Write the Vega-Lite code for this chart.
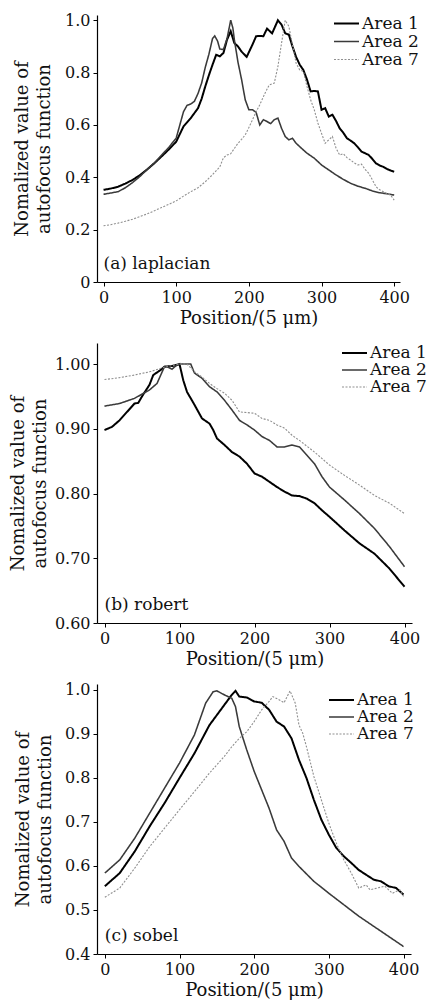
{
  "$schema": "https://vega.github.io/schema/vega-lite/v6.json",
  "autosize": {"type": "pad"},
  "padding": {"left": 9, "top": 12, "right": 0, "bottom": 2},
  "background": "white",
  "bounds": "flush",
  "spacing": 61,
  "config": {
    "font": "DejaVu Serif",
    "view": {"stroke": null},
    "axis": {
      "grid": false,
      "domainColor": "#000",
      "domainWidth": 1.2,
      "tickColor": "#000",
      "tickSize": 4,
      "tickWidth": 1,
      "labelFont": "DejaVu Serif",
      "labelFontSize": 16,
      "labelColor": "#111",
      "labelPadding": 3,
      "titleFont": "DejaVu Serif",
      "titleFontSize": 18,
      "titleFontWeight": "normal",
      "titleColor": "#111"
    },
    "legend": {
      "labelFont": "DejaVu Serif",
      "labelFontSize": 17,
      "labelColor": "#111",
      "padding": 0,
      "labelOffset": 2,
      "rowPadding": 0
    }
  },
  "datasets": {
    "a": [
      {"position": 0, "value": 0.352, "series": "Area 1"}, {"position": 10, "value": 0.357, "series": "Area 1"}, {"position": 20, "value": 0.364, "series": "Area 1"}, {"position": 30, "value": 0.376, "series": "Area 1"}, {"position": 40, "value": 0.39, "series": "Area 1"}, {"position": 50, "value": 0.408, "series": "Area 1"}, {"position": 60, "value": 0.43, "series": "Area 1"}, {"position": 70, "value": 0.454, "series": "Area 1"}, {"position": 80, "value": 0.48, "series": "Area 1"}, {"position": 90, "value": 0.507, "series": "Area 1"}, {"position": 100, "value": 0.536, "series": "Area 1"}, {"position": 105, "value": 0.565, "series": "Area 1"}, {"position": 110, "value": 0.594, "series": "Area 1"}, {"position": 120, "value": 0.626, "series": "Area 1"}, {"position": 130, "value": 0.664, "series": "Area 1"}, {"position": 135, "value": 0.7, "series": "Area 1"}, {"position": 140, "value": 0.747, "series": "Area 1"}, {"position": 145, "value": 0.79, "series": "Area 1"}, {"position": 150, "value": 0.83, "series": "Area 1"}, {"position": 155, "value": 0.868, "series": "Area 1"}, {"position": 160, "value": 0.862, "series": "Area 1"}, {"position": 165, "value": 0.875, "series": "Area 1"}, {"position": 170, "value": 0.926, "series": "Area 1"}, {"position": 175, "value": 0.958, "series": "Area 1"}, {"position": 180, "value": 0.913, "series": "Area 1"}, {"position": 185, "value": 0.9, "series": "Area 1"}, {"position": 190, "value": 0.88, "series": "Area 1"}, {"position": 197, "value": 0.86, "series": "Area 1"}, {"position": 205, "value": 0.907, "series": "Area 1"}, {"position": 210, "value": 0.939, "series": "Area 1"}, {"position": 215, "value": 0.94, "series": "Area 1"}, {"position": 220, "value": 0.939, "series": "Area 1"}, {"position": 225, "value": 0.968, "series": "Area 1"}, {"position": 232, "value": 0.95, "series": "Area 1"}, {"position": 236, "value": 0.975, "series": "Area 1"}, {"position": 240, "value": 1.0, "series": "Area 1"}, {"position": 245, "value": 0.983, "series": "Area 1"}, {"position": 250, "value": 0.95, "series": "Area 1"}, {"position": 255, "value": 0.945, "series": "Area 1"}, {"position": 260, "value": 0.9, "series": "Area 1"}, {"position": 265, "value": 0.86, "series": "Area 1"}, {"position": 270, "value": 0.83, "series": "Area 1"}, {"position": 275, "value": 0.81, "series": "Area 1"}, {"position": 280, "value": 0.773, "series": "Area 1"}, {"position": 285, "value": 0.728, "series": "Area 1"}, {"position": 290, "value": 0.73, "series": "Area 1"}, {"position": 295, "value": 0.728, "series": "Area 1"}, {"position": 300, "value": 0.658, "series": "Area 1"}, {"position": 305, "value": 0.664, "series": "Area 1"}, {"position": 310, "value": 0.632, "series": "Area 1"}, {"position": 315, "value": 0.639, "series": "Area 1"}, {"position": 320, "value": 0.615, "series": "Area 1"}, {"position": 325, "value": 0.587, "series": "Area 1"}, {"position": 330, "value": 0.57, "series": "Area 1"}, {"position": 335, "value": 0.549, "series": "Area 1"}, {"position": 340, "value": 0.54, "series": "Area 1"}, {"position": 345, "value": 0.53, "series": "Area 1"}, {"position": 350, "value": 0.515, "series": "Area 1"}, {"position": 355, "value": 0.498, "series": "Area 1"}, {"position": 360, "value": 0.492, "series": "Area 1"}, {"position": 365, "value": 0.485, "series": "Area 1"}, {"position": 370, "value": 0.47, "series": "Area 1"}, {"position": 375, "value": 0.453, "series": "Area 1"}, {"position": 380, "value": 0.445, "series": "Area 1"}, {"position": 385, "value": 0.44, "series": "Area 1"}, {"position": 390, "value": 0.432, "series": "Area 1"}, {"position": 395, "value": 0.426, "series": "Area 1"}, {"position": 400, "value": 0.421, "series": "Area 1"},
      {"position": 0, "value": 0.335, "series": "Area 2"}, {"position": 10, "value": 0.34, "series": "Area 2"}, {"position": 20, "value": 0.345, "series": "Area 2"}, {"position": 30, "value": 0.36, "series": "Area 2"}, {"position": 40, "value": 0.38, "series": "Area 2"}, {"position": 50, "value": 0.403, "series": "Area 2"}, {"position": 60, "value": 0.43, "series": "Area 2"}, {"position": 70, "value": 0.455, "series": "Area 2"}, {"position": 80, "value": 0.485, "series": "Area 2"}, {"position": 90, "value": 0.515, "series": "Area 2"}, {"position": 100, "value": 0.55, "series": "Area 2"}, {"position": 105, "value": 0.6, "series": "Area 2"}, {"position": 110, "value": 0.65, "series": "Area 2"}, {"position": 115, "value": 0.675, "series": "Area 2"}, {"position": 120, "value": 0.68, "series": "Area 2"}, {"position": 125, "value": 0.69, "series": "Area 2"}, {"position": 130, "value": 0.72, "series": "Area 2"}, {"position": 135, "value": 0.76, "series": "Area 2"}, {"position": 140, "value": 0.82, "series": "Area 2"}, {"position": 145, "value": 0.87, "series": "Area 2"}, {"position": 150, "value": 0.93, "series": "Area 2"}, {"position": 153, "value": 0.94, "series": "Area 2"}, {"position": 157, "value": 0.92, "series": "Area 2"}, {"position": 160, "value": 0.89, "series": "Area 2"}, {"position": 165, "value": 0.888, "series": "Area 2"}, {"position": 170, "value": 0.93, "series": "Area 2"}, {"position": 175, "value": 1.0, "series": "Area 2"}, {"position": 178, "value": 0.97, "series": "Area 2"}, {"position": 180, "value": 0.926, "series": "Area 2"}, {"position": 185, "value": 0.84, "series": "Area 2"}, {"position": 190, "value": 0.773, "series": "Area 2"}, {"position": 195, "value": 0.696, "series": "Area 2"}, {"position": 200, "value": 0.658, "series": "Area 2"}, {"position": 205, "value": 0.658, "series": "Area 2"}, {"position": 210, "value": 0.648, "series": "Area 2"}, {"position": 215, "value": 0.6, "series": "Area 2"}, {"position": 220, "value": 0.62, "series": "Area 2"}, {"position": 225, "value": 0.613, "series": "Area 2"}, {"position": 230, "value": 0.605, "series": "Area 2"}, {"position": 235, "value": 0.62, "series": "Area 2"}, {"position": 240, "value": 0.626, "series": "Area 2"}, {"position": 245, "value": 0.587, "series": "Area 2"}, {"position": 250, "value": 0.556, "series": "Area 2"}, {"position": 255, "value": 0.543, "series": "Area 2"}, {"position": 260, "value": 0.549, "series": "Area 2"}, {"position": 265, "value": 0.53, "series": "Area 2"}, {"position": 270, "value": 0.517, "series": "Area 2"}, {"position": 280, "value": 0.492, "series": "Area 2"}, {"position": 290, "value": 0.473, "series": "Area 2"}, {"position": 300, "value": 0.447, "series": "Area 2"}, {"position": 310, "value": 0.428, "series": "Area 2"}, {"position": 320, "value": 0.409, "series": "Area 2"}, {"position": 330, "value": 0.392, "series": "Area 2"}, {"position": 340, "value": 0.377, "series": "Area 2"}, {"position": 350, "value": 0.366, "series": "Area 2"}, {"position": 360, "value": 0.358, "series": "Area 2"}, {"position": 370, "value": 0.348, "series": "Area 2"}, {"position": 380, "value": 0.341, "series": "Area 2"}, {"position": 390, "value": 0.337, "series": "Area 2"}, {"position": 400, "value": 0.332, "series": "Area 2"},
      {"position": 0, "value": 0.215, "series": "Area 7"}, {"position": 10, "value": 0.219, "series": "Area 7"}, {"position": 20, "value": 0.225, "series": "Area 7"}, {"position": 30, "value": 0.232, "series": "Area 7"}, {"position": 40, "value": 0.24, "series": "Area 7"}, {"position": 50, "value": 0.25, "series": "Area 7"}, {"position": 60, "value": 0.26, "series": "Area 7"}, {"position": 70, "value": 0.272, "series": "Area 7"}, {"position": 80, "value": 0.285, "series": "Area 7"}, {"position": 90, "value": 0.297, "series": "Area 7"}, {"position": 100, "value": 0.31, "series": "Area 7"}, {"position": 110, "value": 0.328, "series": "Area 7"}, {"position": 120, "value": 0.345, "series": "Area 7"}, {"position": 130, "value": 0.36, "series": "Area 7"}, {"position": 140, "value": 0.383, "series": "Area 7"}, {"position": 150, "value": 0.41, "series": "Area 7"}, {"position": 160, "value": 0.44, "series": "Area 7"}, {"position": 165, "value": 0.475, "series": "Area 7"}, {"position": 170, "value": 0.485, "series": "Area 7"}, {"position": 175, "value": 0.49, "series": "Area 7"}, {"position": 180, "value": 0.51, "series": "Area 7"}, {"position": 185, "value": 0.53, "series": "Area 7"}, {"position": 190, "value": 0.545, "series": "Area 7"}, {"position": 195, "value": 0.562, "series": "Area 7"}, {"position": 200, "value": 0.59, "series": "Area 7"}, {"position": 205, "value": 0.62, "series": "Area 7"}, {"position": 210, "value": 0.65, "series": "Area 7"}, {"position": 215, "value": 0.677, "series": "Area 7"}, {"position": 222, "value": 0.72, "series": "Area 7"}, {"position": 228, "value": 0.753, "series": "Area 7"}, {"position": 235, "value": 0.76, "series": "Area 7"}, {"position": 240, "value": 0.824, "series": "Area 7"}, {"position": 245, "value": 0.913, "series": "Area 7"}, {"position": 250, "value": 1.0, "series": "Area 7"}, {"position": 255, "value": 0.977, "series": "Area 7"}, {"position": 260, "value": 0.907, "series": "Area 7"}, {"position": 265, "value": 0.836, "series": "Area 7"}, {"position": 270, "value": 0.81, "series": "Area 7"}, {"position": 275, "value": 0.805, "series": "Area 7"}, {"position": 280, "value": 0.747, "series": "Area 7"}, {"position": 285, "value": 0.696, "series": "Area 7"}, {"position": 290, "value": 0.658, "series": "Area 7"}, {"position": 295, "value": 0.607, "series": "Area 7"}, {"position": 300, "value": 0.568, "series": "Area 7"}, {"position": 305, "value": 0.53, "series": "Area 7"}, {"position": 310, "value": 0.543, "series": "Area 7"}, {"position": 315, "value": 0.556, "series": "Area 7"}, {"position": 320, "value": 0.511, "series": "Area 7"}, {"position": 325, "value": 0.485, "series": "Area 7"}, {"position": 330, "value": 0.49, "series": "Area 7"}, {"position": 335, "value": 0.475, "series": "Area 7"}, {"position": 340, "value": 0.466, "series": "Area 7"}, {"position": 345, "value": 0.455, "series": "Area 7"}, {"position": 350, "value": 0.447, "series": "Area 7"}, {"position": 355, "value": 0.45, "series": "Area 7"}, {"position": 360, "value": 0.43, "series": "Area 7"}, {"position": 365, "value": 0.415, "series": "Area 7"}, {"position": 370, "value": 0.39, "series": "Area 7"}, {"position": 375, "value": 0.364, "series": "Area 7"}, {"position": 380, "value": 0.352, "series": "Area 7"}, {"position": 385, "value": 0.345, "series": "Area 7"}, {"position": 390, "value": 0.338, "series": "Area 7"}, {"position": 395, "value": 0.332, "series": "Area 7"}, {"position": 400, "value": 0.313, "series": "Area 7"}
    ],
    "b": [
      {"position": 0, "value": 0.898, "series": "Area 1"}, {"position": 10, "value": 0.903, "series": "Area 1"}, {"position": 20, "value": 0.913, "series": "Area 1"}, {"position": 30, "value": 0.926, "series": "Area 1"}, {"position": 40, "value": 0.939, "series": "Area 1"}, {"position": 45, "value": 0.94, "series": "Area 1"}, {"position": 50, "value": 0.95, "series": "Area 1"}, {"position": 60, "value": 0.968, "series": "Area 1"}, {"position": 65, "value": 0.983, "series": "Area 1"}, {"position": 75, "value": 0.991, "series": "Area 1"}, {"position": 80, "value": 0.996, "series": "Area 1"}, {"position": 90, "value": 0.997, "series": "Area 1"}, {"position": 100, "value": 1.0, "series": "Area 1"}, {"position": 105, "value": 0.975, "series": "Area 1"}, {"position": 110, "value": 0.957, "series": "Area 1"}, {"position": 120, "value": 0.937, "series": "Area 1"}, {"position": 130, "value": 0.916, "series": "Area 1"}, {"position": 140, "value": 0.908, "series": "Area 1"}, {"position": 145, "value": 0.898, "series": "Area 1"}, {"position": 150, "value": 0.885, "series": "Area 1"}, {"position": 160, "value": 0.875, "series": "Area 1"}, {"position": 170, "value": 0.864, "series": "Area 1"}, {"position": 180, "value": 0.857, "series": "Area 1"}, {"position": 190, "value": 0.846, "series": "Area 1"}, {"position": 200, "value": 0.831, "series": "Area 1"}, {"position": 210, "value": 0.826, "series": "Area 1"}, {"position": 220, "value": 0.818, "series": "Area 1"}, {"position": 230, "value": 0.81, "series": "Area 1"}, {"position": 240, "value": 0.803, "series": "Area 1"}, {"position": 250, "value": 0.797, "series": "Area 1"}, {"position": 260, "value": 0.796, "series": "Area 1"}, {"position": 270, "value": 0.792, "series": "Area 1"}, {"position": 280, "value": 0.785, "series": "Area 1"}, {"position": 290, "value": 0.774, "series": "Area 1"}, {"position": 300, "value": 0.764, "series": "Area 1"}, {"position": 320, "value": 0.743, "series": "Area 1"}, {"position": 340, "value": 0.723, "series": "Area 1"}, {"position": 360, "value": 0.707, "series": "Area 1"}, {"position": 380, "value": 0.684, "series": "Area 1"}, {"position": 400, "value": 0.656, "series": "Area 1"},
      {"position": 0, "value": 0.935, "series": "Area 2"}, {"position": 20, "value": 0.939, "series": "Area 2"}, {"position": 40, "value": 0.947, "series": "Area 2"}, {"position": 60, "value": 0.96, "series": "Area 2"}, {"position": 70, "value": 0.97, "series": "Area 2"}, {"position": 80, "value": 0.996, "series": "Area 2"}, {"position": 85, "value": 0.995, "series": "Area 2"}, {"position": 90, "value": 0.992, "series": "Area 2"}, {"position": 95, "value": 0.997, "series": "Area 2"}, {"position": 100, "value": 1.0, "series": "Area 2"}, {"position": 115, "value": 1.0, "series": "Area 2"}, {"position": 120, "value": 0.986, "series": "Area 2"}, {"position": 130, "value": 0.978, "series": "Area 2"}, {"position": 140, "value": 0.965, "series": "Area 2"}, {"position": 150, "value": 0.957, "series": "Area 2"}, {"position": 160, "value": 0.944, "series": "Area 2"}, {"position": 170, "value": 0.929, "series": "Area 2"}, {"position": 180, "value": 0.913, "series": "Area 2"}, {"position": 190, "value": 0.906, "series": "Area 2"}, {"position": 200, "value": 0.898, "series": "Area 2"}, {"position": 210, "value": 0.888, "series": "Area 2"}, {"position": 220, "value": 0.882, "series": "Area 2"}, {"position": 230, "value": 0.872, "series": "Area 2"}, {"position": 240, "value": 0.872, "series": "Area 2"}, {"position": 250, "value": 0.875, "series": "Area 2"}, {"position": 260, "value": 0.872, "series": "Area 2"}, {"position": 270, "value": 0.859, "series": "Area 2"}, {"position": 280, "value": 0.846, "series": "Area 2"}, {"position": 290, "value": 0.826, "series": "Area 2"}, {"position": 300, "value": 0.81, "series": "Area 2"}, {"position": 320, "value": 0.79, "series": "Area 2"}, {"position": 340, "value": 0.769, "series": "Area 2"}, {"position": 360, "value": 0.746, "series": "Area 2"}, {"position": 380, "value": 0.718, "series": "Area 2"}, {"position": 400, "value": 0.687, "series": "Area 2"},
      {"position": 0, "value": 0.976, "series": "Area 7"}, {"position": 20, "value": 0.979, "series": "Area 7"}, {"position": 40, "value": 0.983, "series": "Area 7"}, {"position": 60, "value": 0.988, "series": "Area 7"}, {"position": 80, "value": 0.995, "series": "Area 7"}, {"position": 100, "value": 1.0, "series": "Area 7"}, {"position": 110, "value": 1.0, "series": "Area 7"}, {"position": 120, "value": 0.988, "series": "Area 7"}, {"position": 130, "value": 0.98, "series": "Area 7"}, {"position": 140, "value": 0.97, "series": "Area 7"}, {"position": 150, "value": 0.962, "series": "Area 7"}, {"position": 160, "value": 0.955, "series": "Area 7"}, {"position": 170, "value": 0.944, "series": "Area 7"}, {"position": 180, "value": 0.926, "series": "Area 7"}, {"position": 190, "value": 0.925, "series": "Area 7"}, {"position": 200, "value": 0.924, "series": "Area 7"}, {"position": 210, "value": 0.916, "series": "Area 7"}, {"position": 220, "value": 0.913, "series": "Area 7"}, {"position": 230, "value": 0.906, "series": "Area 7"}, {"position": 240, "value": 0.901, "series": "Area 7"}, {"position": 250, "value": 0.89, "series": "Area 7"}, {"position": 260, "value": 0.882, "series": "Area 7"}, {"position": 280, "value": 0.864, "series": "Area 7"}, {"position": 300, "value": 0.844, "series": "Area 7"}, {"position": 320, "value": 0.828, "series": "Area 7"}, {"position": 340, "value": 0.813, "series": "Area 7"}, {"position": 360, "value": 0.797, "series": "Area 7"}, {"position": 380, "value": 0.785, "series": "Area 7"}, {"position": 400, "value": 0.769, "series": "Area 7"}
    ],
    "c": [
      {"position": 0, "value": 0.554, "series": "Area 1"}, {"position": 20, "value": 0.584, "series": "Area 1"}, {"position": 40, "value": 0.633, "series": "Area 1"}, {"position": 60, "value": 0.69, "series": "Area 1"}, {"position": 80, "value": 0.743, "series": "Area 1"}, {"position": 100, "value": 0.8, "series": "Area 1"}, {"position": 120, "value": 0.856, "series": "Area 1"}, {"position": 140, "value": 0.92, "series": "Area 1"}, {"position": 160, "value": 0.966, "series": "Area 1"}, {"position": 170, "value": 0.989, "series": "Area 1"}, {"position": 175, "value": 0.998, "series": "Area 1"}, {"position": 180, "value": 0.985, "series": "Area 1"}, {"position": 190, "value": 0.983, "series": "Area 1"}, {"position": 200, "value": 0.974, "series": "Area 1"}, {"position": 210, "value": 0.971, "series": "Area 1"}, {"position": 220, "value": 0.955, "series": "Area 1"}, {"position": 230, "value": 0.928, "series": "Area 1"}, {"position": 240, "value": 0.917, "series": "Area 1"}, {"position": 250, "value": 0.89, "series": "Area 1"}, {"position": 260, "value": 0.841, "series": "Area 1"}, {"position": 270, "value": 0.8, "series": "Area 1"}, {"position": 280, "value": 0.75, "series": "Area 1"}, {"position": 290, "value": 0.705, "series": "Area 1"}, {"position": 300, "value": 0.671, "series": "Area 1"}, {"position": 310, "value": 0.641, "series": "Area 1"}, {"position": 320, "value": 0.622, "series": "Area 1"}, {"position": 330, "value": 0.607, "series": "Area 1"}, {"position": 340, "value": 0.591, "series": "Area 1"}, {"position": 350, "value": 0.58, "series": "Area 1"}, {"position": 360, "value": 0.569, "series": "Area 1"}, {"position": 370, "value": 0.565, "series": "Area 1"}, {"position": 380, "value": 0.554, "series": "Area 1"}, {"position": 390, "value": 0.55, "series": "Area 1"}, {"position": 400, "value": 0.535, "series": "Area 1"},
      {"position": 0, "value": 0.584, "series": "Area 2"}, {"position": 20, "value": 0.614, "series": "Area 2"}, {"position": 40, "value": 0.663, "series": "Area 2"}, {"position": 60, "value": 0.72, "series": "Area 2"}, {"position": 80, "value": 0.777, "series": "Area 2"}, {"position": 100, "value": 0.834, "series": "Area 2"}, {"position": 120, "value": 0.898, "series": "Area 2"}, {"position": 135, "value": 0.97, "series": "Area 2"}, {"position": 145, "value": 0.996, "series": "Area 2"}, {"position": 150, "value": 0.998, "series": "Area 2"}, {"position": 160, "value": 0.989, "series": "Area 2"}, {"position": 170, "value": 0.981, "series": "Area 2"}, {"position": 175, "value": 0.962, "series": "Area 2"}, {"position": 180, "value": 0.917, "series": "Area 2"}, {"position": 190, "value": 0.864, "series": "Area 2"}, {"position": 200, "value": 0.815, "series": "Area 2"}, {"position": 210, "value": 0.773, "series": "Area 2"}, {"position": 220, "value": 0.731, "series": "Area 2"}, {"position": 230, "value": 0.682, "series": "Area 2"}, {"position": 240, "value": 0.656, "series": "Area 2"}, {"position": 250, "value": 0.618, "series": "Area 2"}, {"position": 260, "value": 0.599, "series": "Area 2"}, {"position": 280, "value": 0.565, "series": "Area 2"}, {"position": 300, "value": 0.538, "series": "Area 2"}, {"position": 320, "value": 0.512, "series": "Area 2"}, {"position": 340, "value": 0.486, "series": "Area 2"}, {"position": 360, "value": 0.463, "series": "Area 2"}, {"position": 380, "value": 0.44, "series": "Area 2"}, {"position": 400, "value": 0.417, "series": "Area 2"},
      {"position": 0, "value": 0.529, "series": "Area 7"}, {"position": 20, "value": 0.55, "series": "Area 7"}, {"position": 40, "value": 0.595, "series": "Area 7"}, {"position": 60, "value": 0.644, "series": "Area 7"}, {"position": 80, "value": 0.686, "series": "Area 7"}, {"position": 100, "value": 0.728, "series": "Area 7"}, {"position": 120, "value": 0.769, "series": "Area 7"}, {"position": 140, "value": 0.811, "series": "Area 7"}, {"position": 160, "value": 0.849, "series": "Area 7"}, {"position": 170, "value": 0.871, "series": "Area 7"}, {"position": 180, "value": 0.89, "series": "Area 7"}, {"position": 190, "value": 0.905, "series": "Area 7"}, {"position": 200, "value": 0.928, "series": "Area 7"}, {"position": 210, "value": 0.955, "series": "Area 7"}, {"position": 220, "value": 0.974, "series": "Area 7"}, {"position": 225, "value": 0.985, "series": "Area 7"}, {"position": 232, "value": 0.979, "series": "Area 7"}, {"position": 240, "value": 0.971, "series": "Area 7"}, {"position": 248, "value": 0.998, "series": "Area 7"}, {"position": 255, "value": 0.97, "series": "Area 7"}, {"position": 260, "value": 0.92, "series": "Area 7"}, {"position": 265, "value": 0.902, "series": "Area 7"}, {"position": 270, "value": 0.871, "series": "Area 7"}, {"position": 275, "value": 0.837, "series": "Area 7"}, {"position": 280, "value": 0.803, "series": "Area 7"}, {"position": 290, "value": 0.75, "series": "Area 7"}, {"position": 300, "value": 0.697, "series": "Area 7"}, {"position": 310, "value": 0.652, "series": "Area 7"}, {"position": 320, "value": 0.614, "series": "Area 7"}, {"position": 330, "value": 0.584, "series": "Area 7"}, {"position": 340, "value": 0.55, "series": "Area 7"}, {"position": 350, "value": 0.557, "series": "Area 7"}, {"position": 355, "value": 0.546, "series": "Area 7"}, {"position": 365, "value": 0.55, "series": "Area 7"}, {"position": 375, "value": 0.554, "series": "Area 7"}, {"position": 385, "value": 0.538, "series": "Area 7"}, {"position": 395, "value": 0.546, "series": "Area 7"}, {"position": 400, "value": 0.531, "series": "Area 7"}
    ]
  },
  "vconcat": [
    {
      "width": 303,
      "height": 267,
      "layer": [
        {
          "data": {"name": "a"},
          "mark": {"type": "line", "interpolate": "linear"},
          "encoding": {
            "x": {"field": "position", "type": "quantitative", "scale": {"domain": [-9, 408], "nice": false, "zero": false},
              "axis": {"title": "Position/(5 μm)", "values": [0, 50, 100, 150, 200, 250, 300, 350, 400], "labelExpr": "datum.value % 100 === 0 ? datum.label : ''", "titlePadding": 4}},
            "y": {"field": "value", "type": "quantitative", "scale": {"domain": [0, 1.02], "nice": false, "zero": false},
              "axis": {"title": ["Nomalized value of", "autofocus function"], "titleLineHeight": 22, "titlePadding": 11, "values": [0, 0.1, 0.2, 0.3, 0.4, 0.5, 0.6, 0.7, 0.8, 0.9, 1.0], "labelExpr": "round(datum.value*10) % 2 === 0 ? (datum.value === 0 ? '0' : format(datum.value, '.1f')) : ''"}},
            "color": {"field": "series", "type": "nominal", "scale": {"domain": ["Area 1", "Area 2", "Area 7"], "range": ["#000000", "#3a3a3a", "#8f8f8f"]},
              "legend": {"title": null, "orient": "none", "legendX": 236, "legendY": 2, "symbolType": "stroke", "symbolSize": 625, "clipHeight": 13}},
            "strokeWidth": {"field": "series", "type": "ordinal", "scale": {"domain": ["Area 1", "Area 2", "Area 7"], "range": [2, 1.1, 1]}},
            "strokeDash": {"field": "series", "type": "nominal", "scale": {"domain": ["Area 1", "Area 2", "Area 7"], "range": [[1, 0], [1, 0], [2, 1.5]]}}
          }
        },
        {
          "data": {"values": [{}]},
          "mark": {"type": "text", "text": "(a) laplacian", "align": "left", "baseline": "alphabetic", "fontSize": 17, "font": "DejaVu Serif", "color": "#111"},
          "encoding": {"x": {"datum": 0}, "y": {"datum": 0.049}}
        }
      ]
    },
    {
      "width": 315,
      "height": 280,
      "layer": [
        {
          "data": {"name": "b"},
          "mark": {"type": "line", "interpolate": "linear"},
          "encoding": {
            "x": {"field": "position", "type": "quantitative", "scale": {"domain": [-10, 410], "nice": false, "zero": false},
              "axis": {"title": "Position/(5 μm)", "values": [0, 50, 100, 150, 200, 250, 300, 350, 400], "labelExpr": "datum.value % 100 === 0 ? datum.label : ''", "titlePadding": 4}},
            "y": {"field": "value", "type": "quantitative", "scale": {"domain": [0.6, 1.0325], "nice": false, "zero": false},
              "axis": {"title": ["Nomalized value of", "autofocus function"], "titleLineHeight": 22, "titlePadding": 5, "values": [0.6, 0.625, 0.65, 0.675, 0.7, 0.725, 0.75, 0.775, 0.8, 0.825, 0.85, 0.875, 0.9, 0.925, 0.95, 0.975, 1.0], "labelExpr": "round(datum.value*1000) % 50 === 0 ? format(datum.value, '.2f') : ''"}},
            "color": {"field": "series", "type": "nominal", "scale": {"domain": ["Area 1", "Area 2", "Area 7"], "range": ["#000000", "#3a3a3a", "#8f8f8f"]},
              "legend": {"title": null, "orient": "none", "legendX": 244, "legendY": 3, "symbolType": "stroke", "symbolSize": 625, "clipHeight": 14}},
            "strokeWidth": {"field": "series", "type": "ordinal", "scale": {"domain": ["Area 1", "Area 2", "Area 7"], "range": [2, 1.1, 1]}},
            "strokeDash": {"field": "series", "type": "nominal", "scale": {"domain": ["Area 1", "Area 2", "Area 7"], "range": [[1, 0], [1, 0], [2, 1.5]]}}
          }
        },
        {
          "data": {"values": [{}]},
          "mark": {"type": "text", "text": "(b) robert", "align": "left", "baseline": "alphabetic", "fontSize": 17, "font": "DejaVu Serif", "color": "#111"},
          "encoding": {"x": {"datum": 0}, "y": {"datum": 0.6196}}
        }
      ]
    },
    {
      "width": 314,
      "height": 270,
      "layer": [
        {
          "data": {"name": "c"},
          "mark": {"type": "line", "interpolate": "linear"},
          "encoding": {
            "x": {"field": "position", "type": "quantitative", "scale": {"domain": [-10.5, 410], "nice": false, "zero": false},
              "axis": {"title": "Position/(5 μm)", "values": [0, 50, 100, 150, 200, 250, 300, 350, 400], "labelExpr": "datum.value % 100 === 0 ? datum.label : ''", "titlePadding": 4}},
            "y": {"field": "value", "type": "quantitative", "scale": {"domain": [0.4, 1.0136], "nice": false, "zero": false},
              "axis": {"title": ["Nomalized value of", "autofocus function"], "titleLineHeight": 22, "titlePadding": 10, "values": [0.4, 0.45, 0.5, 0.55, 0.6, 0.65, 0.7, 0.75, 0.8, 0.85, 0.9, 0.95, 1.0], "labelExpr": "round(datum.value*100) % 10 === 0 ? format(datum.value, '.1f') : ''"}},
            "color": {"field": "series", "type": "nominal", "scale": {"domain": ["Area 1", "Area 2", "Area 7"], "range": ["#000000", "#3a3a3a", "#8f8f8f"]},
              "legend": {"title": null, "orient": "none", "legendX": 231, "legendY": 9, "symbolType": "stroke", "symbolSize": 625, "clipHeight": 14}},
            "strokeWidth": {"field": "series", "type": "ordinal", "scale": {"domain": ["Area 1", "Area 2", "Area 7"], "range": [2, 1.1, 1]}},
            "strokeDash": {"field": "series", "type": "nominal", "scale": {"domain": ["Area 1", "Area 2", "Area 7"], "range": [[1, 0], [1, 0], [2, 1.5]]}}
          }
        },
        {
          "data": {"values": [{}]},
          "mark": {"type": "text", "text": "(c) sobel", "align": "left", "baseline": "alphabetic", "fontSize": 17, "font": "DejaVu Serif", "color": "#111"},
          "encoding": {"x": {"datum": 0}, "y": {"datum": 0.4286}}
        }
      ]
    }
  ],
  "resolve": {"scale": {"color": "independent", "strokeWidth": "independent", "strokeDash": "independent"}, "legend": {"color": "independent", "strokeWidth": "independent", "strokeDash": "independent"}}
}
